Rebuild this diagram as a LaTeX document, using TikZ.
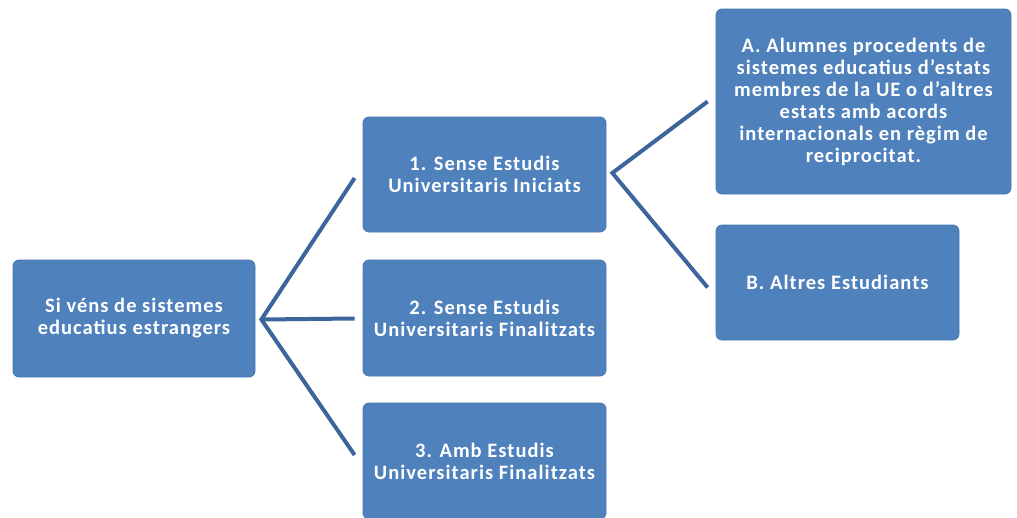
\documentclass[tikz,border=0pt]{standalone}
\usepackage{fontspec}
\setmainfont{Carlito}
\newfontfamily\boxfont[LetterSpace=5]{Carlito}
\definecolor{boxfill}{HTML}{4F81BD}
\definecolor{boxline}{HTML}{4677B3}
\definecolor{conn}{HTML}{3C659B}
\begin{document}
\begin{tikzpicture}[x=1pt,y=-1pt,
  box/.style={draw=boxline, line width=0.8pt, fill=boxfill, rounded corners=6pt,
    text=white, font=\boxfont\fontsize{20.5}{22}\selectfont\bfseries, align=center,
    inner sep=0pt, anchor=center},
  conline/.style={draw=conn, line width=4pt}]
\useasboundingbox (0,0) rectangle (1017,517);
\node[box, minimum width=242, minimum height=117] (root) at (134,318.5)
  {Si véns de sistemes\\educatius estrangers};
\node[box, minimum width=243, minimum height=115] (b1) at (484.5,174.5)
  {1. Sense Estudis\\Universitaris Iniciats};
\node[box, minimum width=243, minimum height=116] (b2) at (484.5,318)
  {2. Sense Estudis\\Universitaris Finalitzats};
\node[box, minimum width=243, minimum height=116] (b3) at (484.5,461)
  {3. Amb Estudis\\Universitaris Finalitzats};
\node[box, minimum width=295, minimum height=185] (ba) at (863.5,101.5)
  {A. Alumnes procedents de\\sistemes educatius d’estats\\membres de la UE o d’altres\\estats amb acords\\internacionals en règim de\\reciprocitat.};
\node[box, minimum width=243, minimum height=115] (bb) at (837.5,282.5)
  {B. Altres Estudiants};
\coordinate (f0) at ([xshift=6pt,yshift=-1pt]root.east);
\coordinate (e1) at ([xshift=-8pt,yshift=-3.5pt]b1.west);
\coordinate (e2) at ([xshift=-8pt,yshift=-0.5pt]b2.west);
\coordinate (e3) at ([xshift=-8pt,yshift=6pt]b3.west);
\coordinate (f1) at ([xshift=6pt,yshift=1.5pt]b1.east);
\coordinate (ea) at ([xshift=-8pt]ba.west);
\coordinate (eb) at ([xshift=-8pt,yshift=-5pt]bb.west);
\draw[conline] (e1) -- (f0) -- (e3);
\draw[conline] (f0) -- (e2);
\draw[conline] (ea) -- (f1) -- (eb);
\end{tikzpicture}
\end{document}
